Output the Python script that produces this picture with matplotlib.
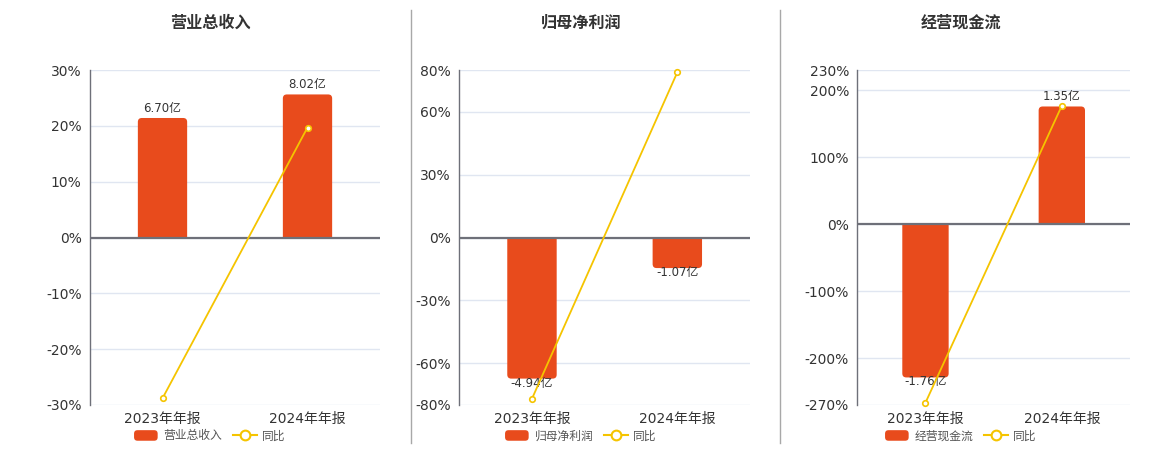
import numpy as np
import matplotlib
matplotlib.use("Agg")
import matplotlib.pyplot as plt
from matplotlib.patches import FancyBboxPatch, PathPatch
from matplotlib.path import Path
from matplotlib.lines import Line2D
from matplotlib.legend_handler import HandlerPatch

plt.rcParams['font.family'] = ['DejaVu Sans', 'Noto Sans CJK SC']

# data
periods = ["2023年年报", "2024年年报"]

titles = ["营业总收入", "归母净利润", "经营现金流"]
values = [[6.70, 8.02], [-4.94, -1.07], [-1.76, 1.35]]          # 亿
yoy = [[-28.8, 19.7], [-77.0, 78.9], [-266.6, 176.7]]            # %
pct_ticks = [[-30, -20, -10, 0, 10, 20, 30],
             [-80, -60, -30, 0, 30, 60, 80],
             [-270, -200, -100, 0, 100, 200, 230]]
bar_per_pct = [0.313, 0.0733, 0.00769]   # bar axis units per percent

BAR = '#E84B1C'
LINE = '#F5C400'
AXIS = '#6E7079'
GRID = '#E0E6F1'
TXT = '#333333'

W, H = 1160, 450
# axes boxes in pixels: left, right, top, bottom
boxes = [(90, 380, 70, 405), (459.3, 750, 70, 405), (857.3, 1130, 70, 405)]
centers = [210, 581, 961]


def rounded_handle(legend, orig_handle, xdescent, ydescent, width, height, fontsize):
    return FancyBboxPatch((-xdescent, -ydescent), width, height,
                          boxstyle="round,pad=0,rounding_size=2.5",
                          fc=BAR, ec='none')


def round_end_bar(rc, rx, ry):
    """path for a bar whose far end has rounded corners"""
    x0 = rc.get_x()
    x1 = x0 + rc.get_width()
    yb = rc.get_y()
    ye = yb + rc.get_height()
    s = 1 if ye >= yb else -1
    ry = min(ry, abs(ye - yb))
    verts = [(x0, yb), (x0, ye - s * ry), (x0, ye), (x0 + rx, ye),
             (x1 - rx, ye), (x1, ye), (x1, ye - s * ry), (x1, yb), (x0, yb)]
    codes = [Path.MOVETO, Path.LINETO, Path.CURVE3, Path.CURVE3,
             Path.LINETO, Path.CURVE3, Path.CURVE3, Path.LINETO, Path.CLOSEPOLY]
    return Path(verts, codes)


fig = plt.figure(figsize=(W / 100, H / 100), dpi=100)

for i in range(3):
    l, r, t, b = boxes[i]
    rect = [l / W, 1 - b / H, (r - l) / W, (b - t) / H]
    ax = fig.add_axes(rect)          # bars + grid
    ax2 = ax.twinx()                 # percent axis + line
    ticks = np.array(pct_ticks[i], dtype=float)
    lo, hi = ticks[0], ticks[-1]
    k = bar_per_pct[i]
    x = np.arange(len(periods))

    ax.set_xlim(-0.5, len(periods) - 0.5)
    ax.set_ylim(lo * k, hi * k)
    ax2.set_ylim(lo, hi)

    # grid on the bar axes, at the percent tick positions
    ax.set_yticks(ticks * k)
    ax.yaxis.grid(True, color=GRID, lw=1)
    ax.set_axisbelow(True)
    ax.tick_params(axis='y', left=False, right=False, labelleft=False, labelright=False)
    for s in ax.spines.values():
        s.set_visible(False)

    bars = ax.bar(x, values[i], width=0.34, color=BAR, zorder=2)
    # rounded far end (4 px radius)
    xpx = (r - l) / 2.0
    ypx = (b - t) / ((hi - lo) * k)
    for rc in bars:
        ax.add_patch(PathPatch(round_end_bar(rc, 4.0 / xpx, 4.0 / ypx),
                               fc=BAR, ec='none', zorder=2))
        rc.set_visible(False)

    for xi, v in zip(x, values[i]):
        if v >= 0:
            ax.annotate("%.2f亿" % v, (xi, v), xytext=(0, 2.5), textcoords='offset points',
                        ha='center', va='bottom', fontsize=8.5, color=TXT, zorder=5)
        else:
            ax.annotate("%.2f亿" % v, (xi, v), xytext=(0, 1.5), textcoords='offset points',
                        ha='center', va='top', fontsize=8.5, color=TXT, zorder=5)

    # category ticks / labels
    ax.set_xticks(x)
    ax.set_xticklabels(periods, fontsize=10, color=TXT)
    ax.set_xticks(np.arange(len(periods) + 1) - 0.5, minor=True)
    ax.tick_params(axis='x', which='both', length=0, pad=5)

    # percent axis
    ax2.plot(x, yoy[i], color=LINE, lw=1.3, marker='o', ms=4, mfc='white',
             mec=LINE, mew=1.2, zorder=4, clip_on=False)
    ax2.axhline(0, color=AXIS, lw=1.6, zorder=3)
    ax2.yaxis.tick_left()
    ax2.set_yticks(ticks)
    ax2.set_yticklabels(["%d%%" % v for v in ticks], fontsize=10, color=TXT)
    ax2.tick_params(axis='y', length=0, pad=6)
    for s in ['top', 'right']:
        ax2.spines[s].set_visible(False)
    ax2.spines['left'].set_color(AXIS)
    ax2.spines['left'].set_linewidth(1)
    ax2.spines['bottom'].set_position(('data', 0))
    ax2.spines['bottom'].set_visible(False)
    ax2.tick_params(axis='x', which='major', length=0, labelbottom=False)
    ax2.tick_params(axis='x', which='minor', length=4, width=1, color=AXIS,
                    direction='out', labelbottom=False)

    fig.text(centers[i] / W, 1 - 23 / H, titles[i], ha='center', va='center',
             fontsize=11.6, fontweight='bold', color=TXT)

    handles = [FancyBboxPatch((0, 0), 1, 1, fc=BAR, ec='none'),
               Line2D([], [], color=LINE, lw=1.5, marker='o', ms=7, mfc='white',
                      mec=LINE, mew=1.5)]
    fig.legend(handles, [titles[i], "同比"], loc='center',
               bbox_to_anchor=(centers[i] / W, 1 - 436 / H), ncol=2, frameon=False,
               fontsize=8.5, labelcolor='#555555', handlelength=2.0, handleheight=1.0,
               handletextpad=0.5, columnspacing=0.9, numpoints=1,
               handler_map={FancyBboxPatch: HandlerPatch(patch_func=rounded_handle)})

# panel separators
for sx in [410.5, 780]:
    fig.add_artist(Line2D([sx / W, sx / W], [1 - 10 / H, 1 - 443 / H],
                          color='#A8A8A8', lw=1))

fig.savefig("out.png", dpi=100)
